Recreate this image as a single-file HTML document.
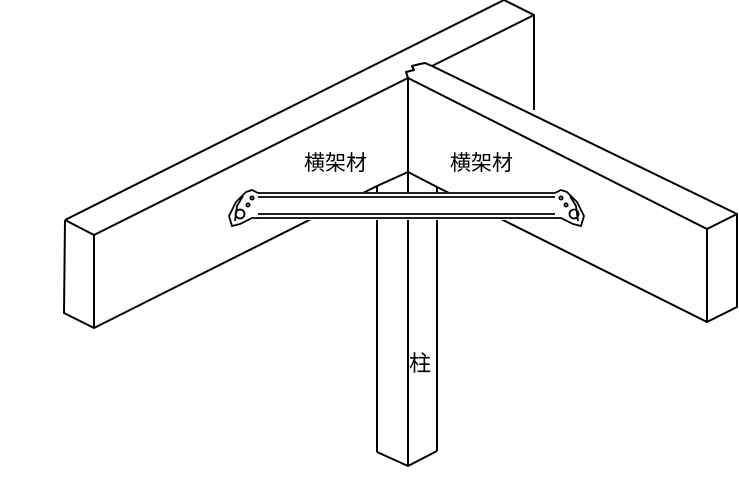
<!DOCTYPE html>
<html><head><meta charset="utf-8"><style>
html,body{margin:0;padding:0;background:#fff;width:739px;height:477px;overflow:hidden}
svg{display:block}
</style></head><body>
<svg width="739" height="477" viewBox="0 0 739 477" xmlns="http://www.w3.org/2000/svg">
<g fill="none" stroke="#000" stroke-width="2" stroke-linejoin="round">
<polyline points="65,220 504,0 534,15 534,110"/>
<polyline points="94,235 408,78 406,72 414,70 412,66 420,64 425,63 432,66 534,15"/>
<polyline points="65,220 94,235 94,328 64,313 65,220"/>
<line x1="94" y1="328" x2="377" y2="186"/>
<line x1="432" y1="66" x2="737" y2="214"/>
<line x1="408" y1="78" x2="707" y2="229"/>
<polyline points="707,229 737,214 737,307 707,322 707,229"/>
<line x1="707" y1="322" x2="437" y2="187"/>
<line x1="408" y1="78" x2="408" y2="466"/>
<polyline points="377,186 408,172 437,187"/>
<line x1="377" y1="186" x2="377" y2="452"/>
<line x1="437" y1="187" x2="437" y2="451"/>
<polyline points="377,452 408,466 437,451"/>
</g>
<rect x="250" y="192" width="312" height="28" fill="#fff" stroke="none"/>
<g fill="none" stroke="#000" stroke-width="1.8">
<line x1="256" y1="193" x2="557" y2="193"/>
<line x1="256" y1="197" x2="557" y2="197"/>
<line x1="256" y1="214" x2="557" y2="214"/>
<line x1="256" y1="218" x2="557" y2="218"/>
<path d="M258,193 L252,190 L246,192 L236,202 L229,216 L232,226 L240,224 L252,218 L258,218" fill="#fff"/>
<path d="M243,196 L237,206 L235,221"/>
<circle cx="240" cy="214" r="4.5"/>
<circle cx="248" cy="205" r="1.6"/>
<circle cx="252" cy="198" r="1.6"/>
<path d="M555,193 L561,190 L567,192 L577,202 L584,216 L581,226 L573,224 L561,218 L555,218" fill="#fff"/>
<path d="M570,196 L576,206 L578,221"/>
<circle cx="574" cy="214" r="4.5"/>
<circle cx="566" cy="205" r="1.6"/>
<circle cx="561" cy="198" r="1.6"/>
</g>
<g font-family="'Liberation Sans','Noto Sans CJK JP',sans-serif" font-size="21" fill="#000">
<text x="304" y="170">横架材</text>
<text x="450" y="170">横架材</text>
<text x="409" y="371" font-size="22">柱</text>
</g>
</svg>
</body></html>
